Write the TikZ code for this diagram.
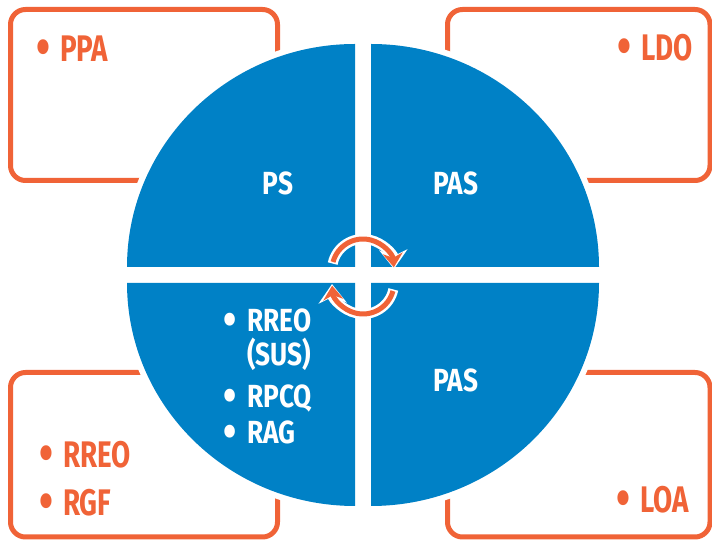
\documentclass[tikz,border=0pt]{standalone}
\usepackage{fontspec}
\setmainfont[FakeStretch=0.82]{Fira Sans}
\newfontfamily\framefont[FakeStretch=0.75]{Fira Sans}
\usetikzlibrary{arrows.meta}

\definecolor{cycleblue}{RGB}{0,129,198}
\definecolor{cycleorange}{RGB}{240,99,55}

\newcommand{\bul}{\makebox[24pt][l]{\raisebox{-0.1em}{\scalebox{1.45}{\textbullet}}}}

\tikzset{
	frame/.style = {draw = cycleorange, line width = 5pt, rounded corners = 15pt},
	orangetext/.style = {text = cycleorange, font = \framefont\fontsize{37}{40}\selectfont\bfseries, inner sep = 0pt, anchor = base west},
	whitetext/.style = {text = white, font = \fontsize{32}{34}\selectfont\bfseries, inner sep = 0pt},
	turn/.style = {cycleorange, line width = 5pt, -{Stealth[length = 14pt, width = 20pt]}},
	turnhalo/.style = {white, line width = 10pt, -{Stealth[length = 19pt, width = 28pt]}}
}

\begin{document}
\begin{tikzpicture}[x = 1pt, y = 1pt]

	\useasboundingbox (0, 0) rectangle (712, 540);
	\clip (0, 0) rectangle (712, 540);

	% Corner frames

	\draw [frame] (10.5, 359.5) rectangle (277.5, 530.5);
	\draw [frame] (447.5, 359.5) rectangle (710, 530.5);
	\draw [frame] (10.5, 3) rectangle (277.5, 167.5);
	\draw [frame] (447.5, 3) rectangle (710, 167.5);

	% Four quarters of the disc, each on a white halo

	\foreach \cx/\cy/\a in {355/273/90, 371/273/0, 355/257/180, 371/257/270} {
		\fill [white] (\cx, \cy) -- ++(\a : 234 and 229)
			arc [start angle = \a, end angle = \a + 90, x radius = 234, y radius = 229] -- cycle;
		\fill [cycleblue] (\cx, \cy) -- ++(\a : 228 and 223)
			arc [start angle = \a, end angle = \a + 90, x radius = 228, y radius = 223] -- cycle;
	}

	% Turning arrows in the middle

	\draw [turnhalo] (363, 270) ++(168 : 31) arc [start angle = 168, end angle = 2, radius = 31];
	\draw [turn] (363, 270) ++(165 : 31) arc [start angle = 165, end angle = 5, radius = 31];

	\draw [turnhalo] (363, 257) ++(-12 : 31) arc [start angle = -12, end angle = -178, radius = 31];
	\draw [turn] (363, 257) ++(-15 : 31) arc [start angle = -15, end angle = -175, radius = 31];

	% Labels inside the quarters

	\node [whitetext, anchor = base] (ps) at (278, 345) {PS};
	\node [whitetext, anchor = base] (pastop) at (456, 345) {PAS};
	\node [whitetext, anchor = base] (pasbottom) at (456, 148) {PAS};

	\node [whitetext, anchor = base west] (rreoin) at (223, 208) {\bul RREO};
	\node [whitetext, anchor = base west] (sus) at (247, 174) {(SUS)};
	\node [whitetext, anchor = base west] (rpcq) at (223, 132) {\bul RPCQ};
	\node [whitetext, anchor = base west] (rag) at (223, 96) {\bul RAG};

	% Labels in the frames

	\node [orangetext] (ppa) at (36, 478) {\bul PPA};
	\node [orangetext] (ldo) at (617, 479) {\bul LDO};
	\node [orangetext] (rreoout) at (39, 72) {\bul RREO};
	\node [orangetext] (rgf) at (39, 24) {\bul RGF};
	\node [orangetext] (loa) at (616, 27) {\bul LOA};

\end{tikzpicture}
\end{document}
